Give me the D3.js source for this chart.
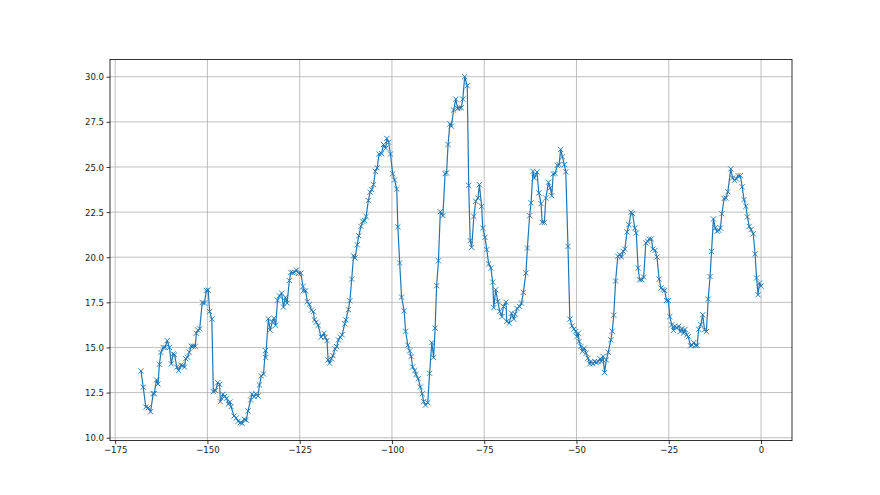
<!DOCTYPE html>
<html>
<head>
<meta charset="utf-8">
<script src="https://cdn.jsdelivr.net/npm/d3@7"></script>
<style>
  html, body { margin: 0; padding: 0; background: #fff; }
  .tick text { font-family: "Liberation Sans Narrow", "DejaVu Sans Condensed", sans-serif; font-size: 9.5px; fill: #222; }
</style>
</head>
<body>
<div class="js-chart"></div>
<script>
// sample positions and values
var xs = [
  -168.0, -167.4, -166.7, -166.0, -165.4, -164.7, -164.4, -163.8, -163.4, -163.0,
  -162.6, -162.0, -161.5, -160.9, -160.3, -159.8, -159.3, -158.9, -158.3, -157.8,
  -157.2, -156.7, -156.2, -155.9, -155.4, -154.9, -154.4, -153.9, -153.3, -153.0,
  -152.6, -152.1, -151.4, -150.8, -150.3, -149.8, -149.4, -148.8, -148.4, -147.8,
  -147.2, -146.7, -146.5, -145.8, -145.4, -144.8, -144.3, -143.9, -143.6, -142.8,
  -142.2, -141.7, -141.1, -140.6, -140.0, -139.5, -139.0, -138.3, -137.9, -137.3,
  -136.9, -136.3, -135.9, -135.4, -134.8, -134.3, -134.2, -133.5, -133.0, -132.4,
  -132.0, -131.5, -131.0, -130.5, -129.9, -129.4, -128.9, -128.4, -127.8, -127.4,
  -126.9, -126.4, -125.9, -125.3, -124.7, -124.1, -124.0, -123.4, -122.9, -122.4,
  -121.8, -121.3, -121.0, -120.5, -120.0, -119.2, -118.4, -118.1, -117.6, -117.3,
  -116.9, -116.4, -116.0, -115.4, -115.0, -114.5, -114.0, -113.5, -112.8, -112.5,
  -111.8, -111.4, -110.9, -110.4, -110.0, -109.4, -109.0, -108.4, -107.9, -107.4,
  -107.0, -106.4, -105.9, -105.5, -105.0, -104.5, -104.0, -103.5, -102.8, -102.3,
  -101.7, -101.4, -100.9, -100.4, -99.8, -99.3, -98.7, -98.4, -97.9, -97.4,
  -96.7, -96.3, -95.7, -95.2, -94.8, -94.4, -93.8, -93.5, -92.9, -92.3,
  -91.8, -91.4, -90.9, -90.3, -89.8, -89.2, -88.7, -88.3, -87.9, -87.4,
  -86.9, -86.2, -85.6, -85.2, -84.8, -84.3, -83.9, -83.3, -82.7, -82.2,
  -81.7, -81.2, -80.8, -80.3, -79.6, -79.2, -78.8, -78.4, -77.8, -77.3,
  -76.7, -76.3, -75.7, -75.4, -74.8, -74.3, -73.8, -73.2, -72.7, -72.4,
  -71.9, -71.3, -70.8, -70.2, -69.8, -69.1, -68.9, -68.2, -67.6, -67.0,
  -66.6, -66.1, -65.4, -64.9, -64.4, -63.7, -63.3, -62.7, -62.3, -61.8,
  -61.4, -60.7, -60.2, -59.6, -59.3, -58.7, -58.3, -57.6, -57.1, -56.7,
  -56.3, -55.8, -55.2, -54.7, -54.3, -53.8, -53.3, -52.9, -52.3, -51.8,
  -51.2, -50.7, -50.2, -49.9, -49.5, -49.3, -48.8, -48.4, -47.9, -47.4,
  -46.9, -46.4, -46.1, -45.6, -45.1, -44.6, -44.1, -43.6, -43.3, -42.8,
  -42.4, -41.9, -41.4, -40.7, -40.3, -39.9, -39.4, -38.8, -38.3, -37.8,
  -37.3, -36.9, -36.3, -35.8, -35.2, -34.8, -34.2, -33.8, -33.3, -32.9,
  -32.3, -31.8, -31.2, -30.7, -30.3, -29.7, -29.3, -28.7, -28.2, -27.6,
  -27.1, -26.6, -26.1, -25.6, -25.1, -24.7, -24.2, -23.7, -23.3, -22.8,
  -22.3, -21.9, -21.4, -21.0, -20.6, -20.1, -19.7, -19.1, -18.7, -18.2,
  -17.7, -17.3, -16.9, -16.3, -15.8, -15.3, -14.8, -14.3, -13.8, -13.4,
  -12.9, -12.4, -11.9, -11.4, -11.0, -10.6, -10.0, -9.5, -9.0, -8.2,
  -7.7, -7.2, -6.7, -6.2, -5.6, -5.1, -4.6, -4.1, -3.7, -3.2,
  -2.7, -2.1, -1.6, -1.2, -0.8, -0.4, 0.0
];
var ys = [
  13.70, 12.80, 11.70, 11.66, 11.44, 12.44, 12.44, 13.20, 12.98, 14.07,
  14.72, 15.00, 15.00, 15.38, 15.00, 14.09, 14.64, 14.59, 13.91, 13.72,
  14.02, 14.00, 13.91, 14.38, 14.46, 14.74, 15.07, 15.07, 15.06, 15.79,
  15.96, 16.03, 17.49, 17.46, 18.16, 18.18, 16.99, 16.57, 12.55, 12.61,
  13.05, 12.96, 12.00, 12.41, 12.28, 12.19, 11.87, 11.98, 11.72, 11.20,
  11.09, 10.91, 10.83, 10.80, 11.02, 10.97, 11.48, 12.09, 12.41, 12.28,
  12.43, 12.31, 12.92, 13.42, 13.53, 14.83, 14.44, 16.59, 15.96, 16.42,
  16.62, 16.22, 17.62, 17.86, 18.01, 17.24, 17.77, 17.46, 18.71, 19.16,
  19.14, 19.17, 19.29, 19.10, 19.12, 18.38, 18.14, 18.14, 17.53, 17.38,
  17.07, 16.98, 16.53, 16.40, 16.22, 15.57, 15.79, 15.57, 15.38, 14.31,
  14.13, 14.37, 14.55, 14.92, 15.05, 15.42, 15.57, 15.70, 16.31, 16.53,
  17.09, 17.59, 18.79, 20.08, 19.96, 20.69, 21.19, 21.71, 21.99, 22.03,
  22.26, 23.14, 23.60, 23.75, 24.02, 24.76, 24.95, 25.72, 25.74, 26.24,
  26.04, 26.58, 26.37, 25.72, 24.62, 24.28, 23.78, 21.68, 19.68, 17.79,
  17.03, 15.90, 15.13, 14.81, 14.50, 13.92, 13.72, 13.50, 13.27, 12.81,
  12.43, 12.00, 11.81, 11.94, 13.57, 15.27, 14.44, 16.07, 18.42, 19.80,
  22.52, 22.30, 24.63, 24.67, 26.24, 27.39, 27.26, 28.15, 28.76, 28.24,
  28.28, 28.28, 28.76, 30.00, 29.50, 23.98, 20.92, 20.54, 22.26, 23.10,
  23.28, 24.02, 22.82, 21.62, 21.10, 20.42, 19.63, 19.40, 18.62, 17.21,
  18.20, 17.55, 16.99, 16.71, 17.27, 17.51, 16.44, 16.35, 16.90, 16.57,
  16.85, 17.16, 17.27, 17.46, 18.05, 19.12, 20.51, 22.30, 23.01, 24.76,
  24.39, 24.72, 23.56, 22.97, 21.93, 21.93, 23.28, 24.15, 23.84, 23.41,
  24.62, 24.64, 25.09, 25.13, 25.97, 25.56, 25.13, 24.73, 20.60, 16.57,
  16.20, 16.02, 15.88, 15.60, 15.79, 15.33, 15.05, 14.79, 14.96, 14.68,
  14.40, 14.09, 14.22, 14.09, 14.22, 14.16, 14.22, 14.38, 14.22, 14.50,
  13.61, 14.31, 14.73, 15.42, 15.90, 16.79, 18.68, 20.05, 20.16, 20.01,
  20.32, 20.45, 21.40, 21.80, 22.49, 22.41, 21.62, 21.34, 19.40, 18.75,
  18.75, 18.90, 20.79, 20.88, 21.01, 21.01, 20.45, 20.38, 20.01, 18.79,
  18.29, 18.20, 18.16, 17.60, 17.60, 16.71, 16.25, 15.95, 16.18, 16.09,
  16.18, 15.88, 16.05, 15.79, 16.00, 15.70, 15.60, 15.09, 15.14, 15.27,
  15.11, 15.11, 16.01, 16.27, 16.81, 15.98, 15.88, 17.68, 18.93, 20.32,
  22.12, 21.62, 21.43, 21.49, 21.62, 22.41, 23.25, 23.28, 23.62, 24.89,
  24.39, 24.26, 24.34, 24.52, 24.52, 23.90, 23.19, 22.82, 22.23, 21.71,
  21.53, 21.30, 20.18, 18.85, 17.92, 18.57, 18.40
];
var xTicks = [-175, -150, -125, -100, -75, -50, -25, 0];
var yTicks = [10.0, 12.5, 15.0, 17.5, 20.0, 22.5, 25.0, 27.5, 30.0];

var W = 880, H = 495;
var plotLeft = 110, plotRight = 792, plotTop = 59.4, plotBottom = 440.6;
var COLOR = '#1f77b4';

// matplotlib style 5% margins
function padded(ext) {
  var m = (ext[1] - ext[0]) * 0.05;
  return [ext[0] - m, ext[1] + m];
}

var x = d3.scaleLinear().domain(padded(d3.extent(xs))).range([plotLeft, plotRight]);
var y = d3.scaleLinear().domain(padded(d3.extent(ys))).range([plotBottom, plotTop]);

var svg = d3.select('.js-chart').append('svg')
  .attr('width', W).attr('height', H);

// grid
var grid = svg.append('g');
grid.selectAll('.gx').data(xTicks).enter().append('line')
  .attr('x1', function(d) { return x(d); }).attr('x2', function(d) { return x(d); })
  .attr('y1', plotTop).attr('y2', plotBottom)
  .attr('stroke', '#b0b0b0').attr('stroke-width', 0.8);
grid.selectAll('.gy').data(yTicks).enter().append('line')
  .attr('y1', function(d) { return y(d); }).attr('y2', function(d) { return y(d); })
  .attr('x1', plotLeft).attr('x2', plotRight)
  .attr('stroke', '#b0b0b0').attr('stroke-width', 0.8);

var minus = function(s) { return s.replace('-', '\u2212'); };

var xAxis = d3.axisBottom(x).tickValues(xTicks).tickSize(3.5).tickPadding(2.5)
  .tickFormat(function(d) { return minus(d3.format('d')(d)); });
var yAxis = d3.axisLeft(y).tickValues(yTicks).tickSize(3.5).tickPadding(2.5)
  .tickFormat(d3.format('.1f'));

svg.append('g').attr('transform', 'translate(0,' + plotBottom + ')').call(xAxis)
  .call(function(g) { g.select('.domain').remove(); })
  .selectAll('line').attr('stroke', '#000').attr('stroke-width', 0.8);
svg.append('g').attr('transform', 'translate(' + plotLeft + ',0)').call(yAxis)
  .call(function(g) { g.select('.domain').remove(); })
  .selectAll('line').attr('stroke', '#000').attr('stroke-width', 0.8);

// line
var pts = xs.map(function(d, i) { return [d, ys[i]]; });
var line = d3.line().x(function(d) { return x(d[0]); }).y(function(d) { return y(d[1]); });
svg.append('path').datum(pts).attr('d', line)
  .attr('fill', 'none').attr('stroke', COLOR).attr('stroke-width', 1.2)
  .attr('stroke-linejoin', 'round');

// x markers
var s = 2.6;
svg.append('g').selectAll('path.mk').data(pts).enter().append('path')
  .attr('d', function(d) {
    var cx = x(d[0]), cy = y(d[1]);
    return 'M' + (cx - s) + ',' + (cy - s) + 'L' + (cx + s) + ',' + (cy + s) +
      'M' + (cx - s) + ',' + (cy + s) + 'L' + (cx + s) + ',' + (cy - s);
  })
  .attr('stroke', COLOR).attr('stroke-width', 0.9).attr('fill', 'none');

// frame
svg.append('rect').attr('x', plotLeft).attr('y', plotTop)
  .attr('width', plotRight - plotLeft).attr('height', plotBottom - plotTop)
  .attr('fill', 'none').attr('stroke', '#000').attr('stroke-width', 0.8);
</script>
</body>
</html>
